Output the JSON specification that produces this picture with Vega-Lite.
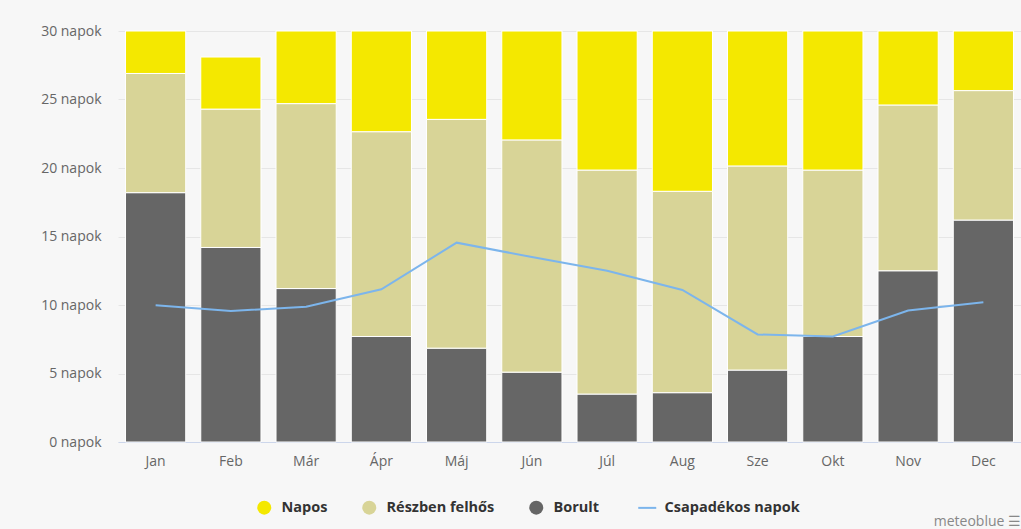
{
  "$schema": "https://vega.github.io/schema/vega-lite/v6.json",
  "width": 903,
  "height": 411,
  "autosize": {"type": "none"},
  "padding": {"left": 118, "top": 31, "right": 0, "bottom": 87},
  "background": "#f7f7f7",
  "config": {
    "view": {"stroke": null},
    "font": "Open Sans"
  },
  "title": {
    "text": "meteoblue ☰",
    "orient": "bottom",
    "anchor": "end",
    "color": "#888888",
    "fontSize": 14,
    "fontWeight": "normal",
    "offset": 0
  },
  "datasets": {
    "bars": [
      {"month": "Jan", "series": "Borult", "stack": 1, "days": 18.2},
      {"month": "Jan", "series": "Részben felhős", "stack": 2, "days": 8.7},
      {"month": "Jan", "series": "Napos", "stack": 3, "days": 3.1},
      {"month": "Feb", "series": "Borult", "stack": 1, "days": 14.2},
      {"month": "Feb", "series": "Részben felhős", "stack": 2, "days": 10.1},
      {"month": "Feb", "series": "Napos", "stack": 3, "days": 3.8},
      {"month": "Már", "series": "Borult", "stack": 1, "days": 11.2},
      {"month": "Már", "series": "Részben felhős", "stack": 2, "days": 13.5},
      {"month": "Már", "series": "Napos", "stack": 3, "days": 5.3},
      {"month": "Ápr", "series": "Borult", "stack": 1, "days": 7.7},
      {"month": "Ápr", "series": "Részben felhős", "stack": 2, "days": 14.95},
      {"month": "Ápr", "series": "Napos", "stack": 3, "days": 7.35},
      {"month": "Máj", "series": "Borult", "stack": 1, "days": 6.85},
      {"month": "Máj", "series": "Részben felhős", "stack": 2, "days": 16.7},
      {"month": "Máj", "series": "Napos", "stack": 3, "days": 6.45},
      {"month": "Jún", "series": "Borult", "stack": 1, "days": 5.1},
      {"month": "Jún", "series": "Részben felhős", "stack": 2, "days": 16.95},
      {"month": "Jún", "series": "Napos", "stack": 3, "days": 7.95},
      {"month": "Júl", "series": "Borult", "stack": 1, "days": 3.5},
      {"month": "Júl", "series": "Részben felhős", "stack": 2, "days": 16.35},
      {"month": "Júl", "series": "Napos", "stack": 3, "days": 10.15},
      {"month": "Aug", "series": "Borult", "stack": 1, "days": 3.6},
      {"month": "Aug", "series": "Részben felhős", "stack": 2, "days": 14.7},
      {"month": "Aug", "series": "Napos", "stack": 3, "days": 11.7},
      {"month": "Sze", "series": "Borult", "stack": 1, "days": 5.25},
      {"month": "Sze", "series": "Részben felhős", "stack": 2, "days": 14.9},
      {"month": "Sze", "series": "Napos", "stack": 3, "days": 9.85},
      {"month": "Okt", "series": "Borult", "stack": 1, "days": 7.7},
      {"month": "Okt", "series": "Részben felhős", "stack": 2, "days": 12.15},
      {"month": "Okt", "series": "Napos", "stack": 3, "days": 10.15},
      {"month": "Nov", "series": "Borult", "stack": 1, "days": 12.5},
      {"month": "Nov", "series": "Részben felhős", "stack": 2, "days": 12.1},
      {"month": "Nov", "series": "Napos", "stack": 3, "days": 5.4},
      {"month": "Dec", "series": "Borult", "stack": 1, "days": 16.2},
      {"month": "Dec", "series": "Részben felhős", "stack": 2, "days": 9.45},
      {"month": "Dec", "series": "Napos", "stack": 3, "days": 4.35}
    ],
    "rain": [
      {"month": "Jan", "days": 9.98},
      {"month": "Feb", "days": 9.56},
      {"month": "Már", "days": 9.88},
      {"month": "Ápr", "days": 11.15},
      {"month": "Máj", "days": 14.55},
      {"month": "Jún", "days": 13.5},
      {"month": "Júl", "days": 12.5},
      {"month": "Aug", "days": 11.1},
      {"month": "Sze", "days": 7.85},
      {"month": "Okt", "days": 7.7},
      {"month": "Nov", "days": 9.6},
      {"month": "Dec", "days": 10.2}
    ]
  },
  "encoding": {
    "x": {
      "field": "month",
      "type": "nominal",
      "sort": ["Jan", "Feb", "Már", "Ápr", "Máj", "Jún", "Júl", "Aug", "Sze", "Okt", "Nov", "Dec"],
      "scale": {"paddingInner": 0.2, "paddingOuter": 0.1},
      "axis": {
        "title": null,
        "labelAngle": 0,
        "ticks": false,
        "domainColor": "#ccd6eb",
        "labelColor": "#666666",
        "labelFontSize": 14,
        "labelPadding": 12,
        "grid": false
      }
    }
  },
  "layer": [
    {
      "data": {"name": "bars"},
      "mark": {"type": "bar", "stroke": "#ffffff", "strokeWidth": 1},
      "encoding": {
        "y": {
          "field": "days",
          "type": "quantitative",
          "stack": "zero",
          "scale": {"domain": [0, 30], "nice": false},
          "axis": {
            "title": null,
            "values": [0, 5, 10, 15, 20, 25, 30],
            "labelExpr": "datum.value + ' napok'",
            "domain": false,
            "ticks": false,
            "gridColor": "#e6e6e6",
            "labelColor": "#666666",
            "labelFontSize": 14,
            "labelPadding": 17
          }
        },
        "order": {"field": "stack", "type": "quantitative"},
        "color": {
          "field": "series",
          "type": "nominal",
          "scale": {
            "domain": ["Napos", "Részben felhős", "Borult", "Csapadékos napok"],
            "range": ["#f4e800", "#d8d497", "#666666", "#7cb5ec"]
          },
          "legend": {
            "title": null,
            "orient": "none",
            "direction": "horizontal",
            "legendX": 139,
            "legendY": 469,
            "padding": 0,
            "columnPadding": 34,
            "labelFontSize": 14.5,
            "labelFontWeight": "bold",
            "labelColor": "#333333",
            "labelOffset": 10,
            "symbolSize": 196,
            "encode": {
              "symbols": {
                "update": {
                  "shape": {"signal": "datum.value === 'Csapadékos napok' ? 'stroke' : 'circle'"},
                  "size": {"signal": "datum.value === 'Csapadékos napok' ? 324 : 196"},
                  "fill": {"signal": "datum.value === 'Csapadékos napok' ? 'transparent' : scale('color', datum.value)"},
                  "stroke": {"signal": "scale('color', datum.value)"},
                  "strokeWidth": {"signal": "datum.value === 'Csapadékos napok' ? 2 : 0"},
                  "opacity": {"value": 1},
                  "fillOpacity": {"value": 1}
                }
              }
            }
          }
        }
      }
    },
    {
      "data": {"name": "rain"},
      "mark": {"type": "line", "strokeWidth": 2},
      "encoding": {
        "y": {"field": "days", "type": "quantitative"},
        "color": {
          "datum": "Csapadékos napok",
          "type": "nominal",
          "legend": {
            "title": null,
            "orient": "none",
            "direction": "horizontal",
            "legendX": 139,
            "legendY": 469,
            "padding": 0,
            "columnPadding": 34,
            "labelFontSize": 14.5,
            "labelFontWeight": "bold",
            "labelColor": "#333333",
            "labelOffset": 10,
            "symbolSize": 196,
            "encode": {
              "symbols": {
                "update": {
                  "shape": {"signal": "datum.value === 'Csapadékos napok' ? 'stroke' : 'circle'"},
                  "size": {"signal": "datum.value === 'Csapadékos napok' ? 324 : 196"},
                  "fill": {"signal": "datum.value === 'Csapadékos napok' ? 'transparent' : scale('color', datum.value)"},
                  "stroke": {"signal": "scale('color', datum.value)"},
                  "strokeWidth": {"signal": "datum.value === 'Csapadékos napok' ? 2 : 0"},
                  "opacity": {"value": 1},
                  "fillOpacity": {"value": 1}
                }
              }
            }
          }
        }
      }
    }
  ]
}
